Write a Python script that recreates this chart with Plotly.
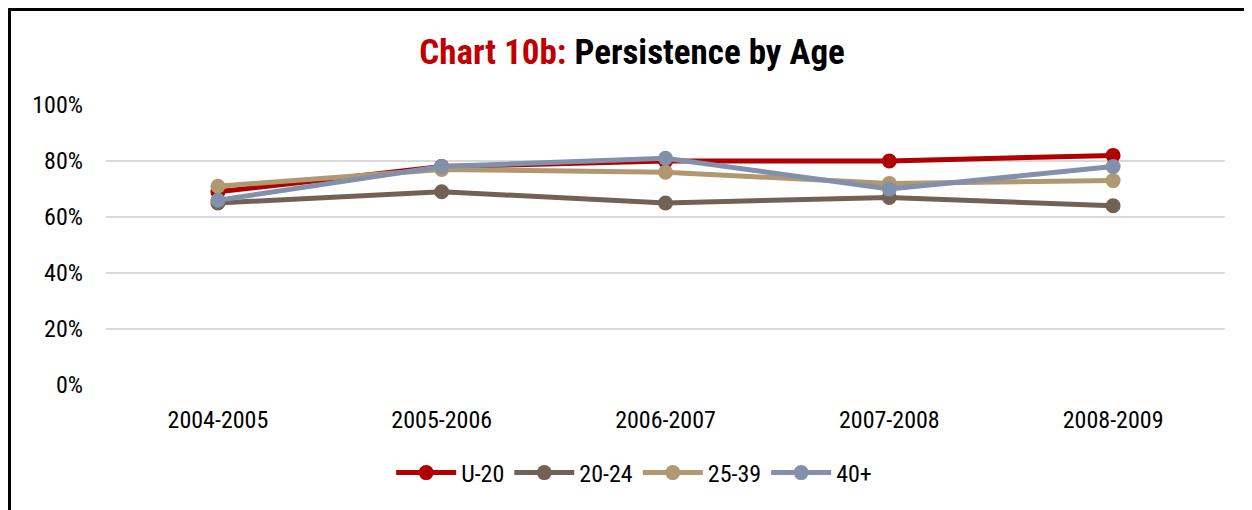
import plotly.graph_objects as go

categories = ["2004-2005", "2005-2006", "2006-2007", "2007-2008", "2008-2009"]
u20 = [0.69, 0.78, 0.80, 0.80, 0.82]
a20_24 = [0.65, 0.69, 0.65, 0.67, 0.64]
a25_39 = [0.71, 0.77, 0.76, 0.72, 0.73]
a40p = [0.66, 0.78, 0.81, 0.70, 0.78]

series = [
    ("U-20", u20, "#B00000"),
    ("20-24", a20_24, "#726256"),
    ("25-39", a25_39, "#B09870"),
    ("40+", a40p, "#8290AC"),
]

FONT = "Liberation Sans Narrow, Arial Narrow, Roboto Condensed, Liberation Sans, Arial, sans-serif"

# page body has an 8px margin; figure sized to fit the 1252x510 window
W, H = 1244, 502
OFF = 8

fig = go.Figure()
for name, vals, col in series:
    fig.add_trace(go.Scatter(
        x=categories, y=vals, name=name, mode="lines+markers",
        line=dict(color=col, width=5),
        marker=dict(color=col, size=15),
    ))

fig.update_layout(
    width=W, height=H,
    margin=dict(l=106 - OFF, r=27, t=105 - OFF, b=125),
    paper_bgcolor="white", plot_bgcolor="white",
    font=dict(family=FONT, size=24, color="#000000"),
    title=dict(
        text="<b><span style='color:#C00000'>Chart 10b:</span> Persistence by Age</b>",
        x=(632 - OFF) / W, xanchor="center", y=1 - (52 - OFF) / H, yanchor="middle",
        font=dict(family=FONT, size=35, color="#000000"),
    ),
    xaxis=dict(
        type="category", showgrid=False, zeroline=False, showline=False,
        ticks="", tickfont=dict(size=24), range=[-0.5, 4.5],
        ticklabelstandoff=18,
    ),
    yaxis=dict(
        range=[0, 1], dtick=0.2, tickformat=".0%", showgrid=True,
        gridcolor="#D9D9D9", gridwidth=1.5, zeroline=False, showline=False,
        ticks="", tickfont=dict(size=24), ticklabelstandoff=22,
    ),
    legend=dict(
        orientation="h", x=0.472, xanchor="center", y=(385 - 473) / 280,
        yanchor="middle", font=dict(size=24), itemwidth=60,
        tracegroupgap=0,
    ),
    showlegend=True,
)

fig.add_shape(
    type="rect", xref="paper", yref="paper",
    x0=(9 - 106) / 1119, x1=1.3, y0=-0.6, y1=(385 - 9) / 280,
    line=dict(color="#000000", width=4), fillcolor="rgba(0,0,0,0)",
    layer="above",
)

fig.write_html("out.html")
